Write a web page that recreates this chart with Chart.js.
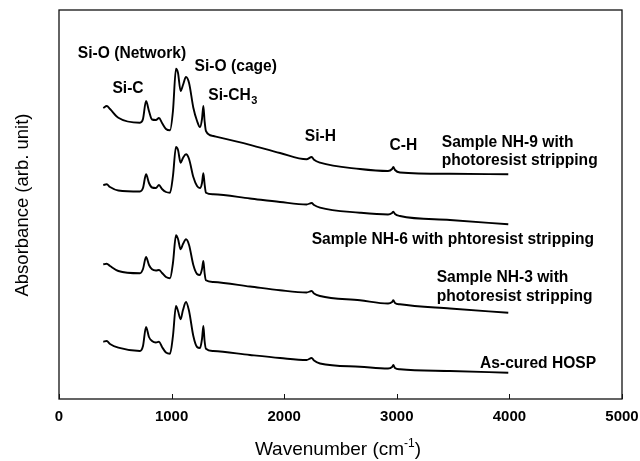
<!DOCTYPE html>
<html><head><meta charset="utf-8">
<script src="https://cdn.jsdelivr.net/npm/chart.js@4/dist/chart.umd.min.js"></script>
<style>html,body{margin:0;padding:0;background:#fff;}#wrap{width:640px;height:461px;}</style>
</head><body><div id="wrap"><canvas id="c" width="640" height="461"></canvas></div>
<script>
// Wavenumber sample points (cm-1)
const wavenumbers = [393,424,453,527,719,746,773,799,826,861,888,915,950,986,1012,1039,1057,1080,1101,1128,1155,1193,1226,1252,1270,1282,1293,1305,1370,1696,1963,2199,2244,2265,2318,2673,2922,2958,2969,2984,3028,3472,3990];
// Absorbance (arb. unit), traces as stacked in the figure
const nh9 = [291,293,290,281.3,276.3,280,298,288,279.5,279,281,276,270,268.7,288,330.3,326,308,314,322,316,291.3,278,272,280,293,278,268,263,254.2,246,239.7,242,239.2,236.3,230,228,230,232,229,226.5,225.2,224.7];
const nh6 = [214,214.7,212,208.5,207.5,211,224.7,216,211.5,211,214,210,207,206.3,223,252,249,236.3,241,244.7,240,222,213,211,216,225.7,215,206.3,204.7,200.5,197,194.5,196,194,191.3,186.3,184.5,186,187.3,185,183,179,174.7];
const nh3 = [134.7,135.3,133,128,125.7,130,142,134,129.7,128.5,129,126,122,120.7,136,163.7,160,149.7,155,159.7,154,134,125,124,130,138,126,118.7,117,112.5,108.7,106.5,108,105.5,103,98.7,95.5,97,98.7,96,94.7,90.5,86.3];
const asCured = [57.3,58,55,51.3,48,53,72,62,58,56.5,57.3,52,46.5,45.3,63,93,88,79.7,89,97,88,63,52,51,60,73,58,50.3,48,44,41,39,41,38.5,35.5,32.3,30.5,32,34,31,29.7,28,26.3];
const seriesNames = ["Sample NH-9 with photoresist stripping","Sample NH-6 with phtoresist stripping","Sample NH-3 with photoresist stripping","As-cured HOSP"];
const xTickValues = [0,1000,2000,3000,4000,5000];

const seriesList = [nh9, nh6, nh3, asCured];
const datasets = seriesList.map((arr, i) => ({
  label: seriesNames[i],
  data: arr.map((v, j) => ({x: wavenumbers[j], y: v})),
  borderColor: '#000',
  borderWidth: 1.9,
  pointRadius: 0,
  fill: false,
  cubicInterpolationMode: 'monotone'
}));

const FAM = '"Liberation Sans", Arial, sans-serif';
const BOLD = 'bold 15.6px ' + FAM;

const decor = {
  id: 'decor',
  afterDraw(chart) {
    const ctx = chart.ctx, a = chart.chartArea;
    const xs = chart.scales.x, ys = chart.scales.y;
    ctx.save();
    // frame
    ctx.strokeStyle = '#111';
    ctx.lineWidth = 1.3;
    ctx.strokeRect(a.left, a.top, a.right - a.left, a.bottom - a.top);
    // inward ticks on bottom axis
    ctx.lineWidth = 1;
    xs.ticks.forEach(t => {
      const px = Math.round(xs.getPixelForValue(t.value)) + 0.5;
      ctx.beginPath(); ctx.moveTo(px, a.bottom); ctx.lineTo(px, a.bottom - 5); ctx.stroke();
    });
    // annotations in data coordinates
    ctx.fillStyle = '#000';
    ctx.font = BOLD;
    ctx.textBaseline = 'middle';
    const put = (txt, wn, v, align) => {
      ctx.textAlign = align;
      ctx.fillText(txt, xs.getPixelForValue(wn), ys.getPixelForValue(v));
    };
    put('Si-O (Network)', 648, 345, 'center');
    put('Si-C', 613, 310, 'center');
    put('Si-O (cage)', 1570, 332, 'center');
    {
      const x0 = xs.getPixelForValue(1326), y0 = ys.getPixelForValue(303);
      ctx.textAlign = 'left';
      ctx.fillText('Si-CH', x0, y0);
      const w = ctx.measureText('Si-CH').width;
      ctx.font = 'bold 11px ' + FAM;
      ctx.fillText('3', x0 + w + 0.5, y0 + 5);
      ctx.font = BOLD;
    }
    put('Si-H', 2322, 262, 'center');
    put('C-H', 3058, 253, 'center');
    put('Sample NH-9 with', 3399, 256, 'left');
    put('photoresist stripping', 3399, 238, 'left');
    put('Sample NH-6 with phtoresist stripping', 2244, 159, 'left');
    put('Sample NH-3 with', 3354, 121, 'left');
    put('photoresist stripping', 3354, 102, 'left');
    put('As-cured HOSP', 3739, 35, 'left');
    // x title with superscript
    ctx.textBaseline = 'alphabetic';
    ctx.textAlign = 'left';
    const p1 = 'Wavenumber (cm', p3 = ')';
    ctx.font = '19px ' + FAM; const w1 = ctx.measureText(p1).width;
    ctx.font = '12px ' + FAM; const w2 = ctx.measureText('-1').width;
    ctx.font = '19px ' + FAM; const w3 = ctx.measureText(p3).width;
    const cx = 338;
    let sx = cx - (w1 + w2 + w3) / 2;
    const by = 455;
    ctx.fillText(p1, sx, by); sx += w1;
    ctx.font = '12px ' + FAM; ctx.fillText('-1', sx, by - 8); sx += w2;
    ctx.font = '19px ' + FAM; ctx.fillText(p3, sx, by);
    // y title
    ctx.save();
    ctx.translate(23, 205);
    ctx.rotate(-Math.PI / 2);
    ctx.textAlign = 'center';
    ctx.textBaseline = 'middle';
    ctx.font = '18.5px ' + FAM;
    ctx.fillText('Absorbance (arb. unit)', 0, 0);
    ctx.restore();
    ctx.restore();
  }
};

new Chart(document.getElementById('c'), {
  type: 'line',
  data: { datasets },
  options: {
    responsive: false,
    animation: false,
    events: [],
    layout: { padding: { left: 59, right: 18, top: 10, bottom: 0 } },
    plugins: { legend: { display: false }, tooltip: { enabled: false } },
    scales: {
      x: {
        type: 'linear', min: 0, max: 5000,
        afterBuildTicks(scale) { scale.ticks = xTickValues.map(v => ({ value: v })); },
        afterFit(scale) { scale.height = 62; scale.paddingLeft = 0; scale.paddingRight = 0; },
        grid: { display: false, drawTicks: false },
        border: { display: false },
        ticks: { color: '#000', padding: 9, maxRotation: 0, autoSkip: false,
                 callback: v => String(v),
                 font: { family: FAM, size: 15, weight: 'bold' } }
      },
      y: { display: false, min: 0, max: 389 }
    }
  },
  plugins: [decor]
});
</script>
</body></html>
